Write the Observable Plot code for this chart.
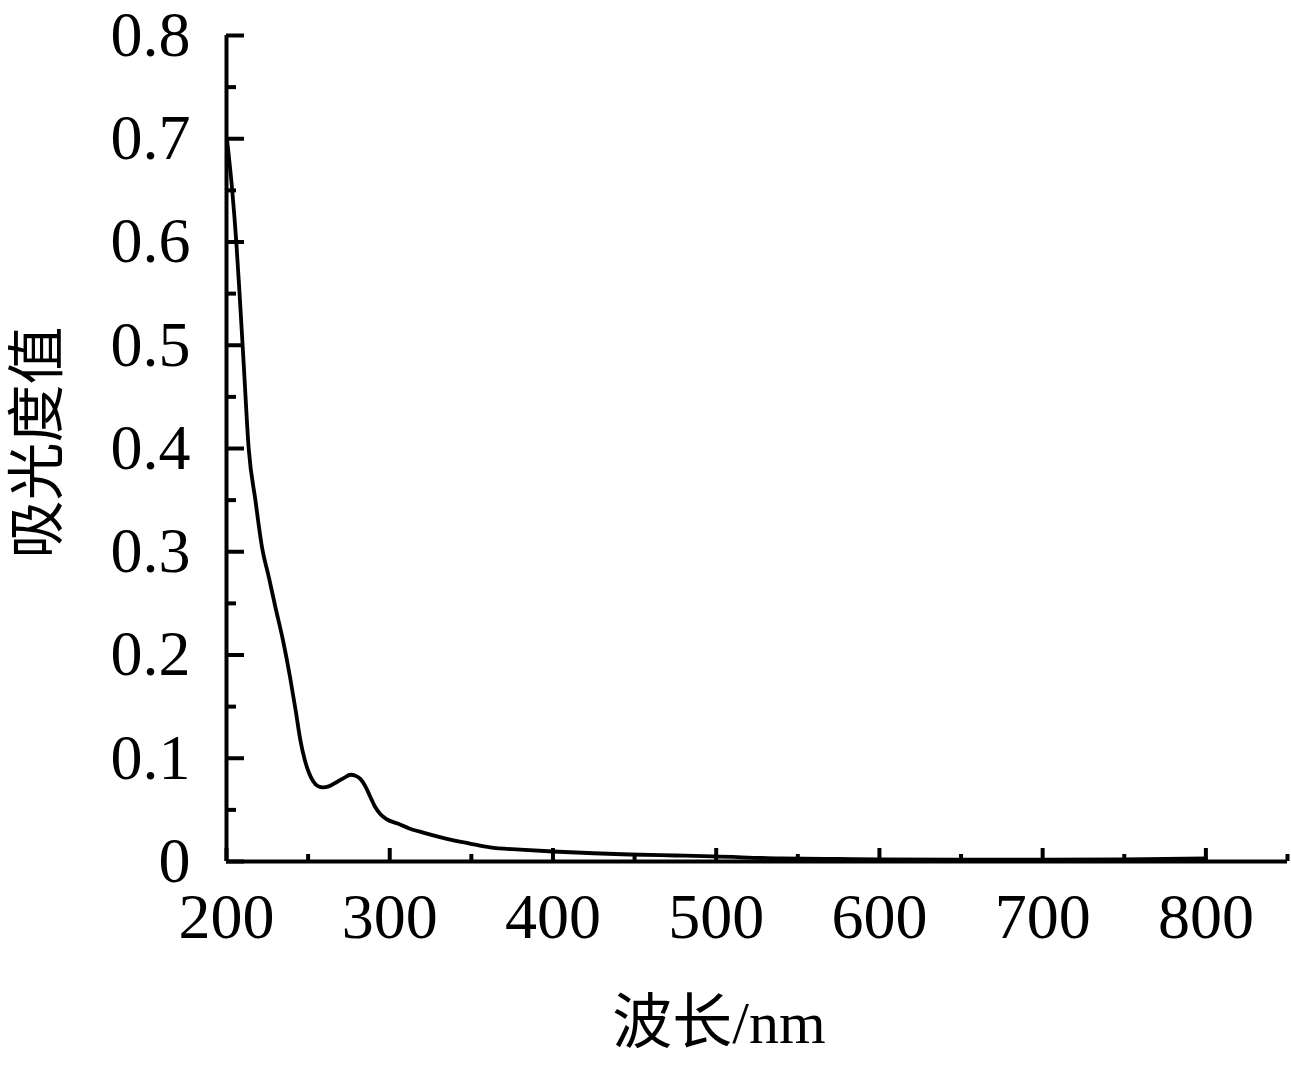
<!DOCTYPE html>
<html><head><meta charset="utf-8">
<script src="https://cdn.jsdelivr.net/npm/d3@7"></script>
<script src="https://cdn.jsdelivr.net/npm/@observablehq/plot@0.6"></script>
<style>body{margin:0;background:#fff}</style>
</head><body><div id="chart"></div>
<script>
const wavelength = [200.4,203.5,206,208,210.6,213.6,217.7,221.8,226,230,234.5,239,242.5,245.3,248,250.5,253,256,259.3,263,267.7,272,276,279,282,285,288,291,294.2,298,304.4,312,320.5,335,349,361.5,380,400,425,447,475,498,539,575,600,650,700,750,800];
const absorbance = [0.698,0.650,0.600,0.550,0.480,0.400,0.350,0.304,0.275,0.246,0.215,0.178,0.145,0.117,0.098,0.086,0.078,0.073,0.0717,0.073,0.077,0.081,0.084,0.083,0.080,0.073,0.063,0.053,0.046,0.041,0.037,0.032,0.028,0.022,0.0174,0.0136,0.0115,0.0097,0.008,0.0068,0.0058,0.005,0.003,0.0025,0.002,0.0018,0.0018,0.002,0.003];
const xMajor = [200,300,400,500,600,700,800];
const xMinor = [250,350,450,550,650,750,850];
const yMajor = [0,0.1,0.2,0.3,0.4,0.5,0.6,0.7,0.8];
const yMinor = [0.05,0.15,0.25,0.35,0.45,0.55,0.65,0.75];
const xLabel = "波长/nm";
const yLabel = "吸光度值";

const data = wavelength.map((w,i)=>({w, a: absorbance[i]}));
const serif = "'Liberation Serif','Times New Roman',serif";
const cjk = "'Liberation Serif','Noto Sans CJK SC',serif";

const chart = Plot.plot({
  width: 1291, height: 1068,
  marginLeft: 226, marginRight: 4, marginTop: 35, marginBottom: 207,
  style: {fontFamily: serif, color: "#000", background: "#fff"},
  x: {domain: [200, 850]},
  y: {domain: [0, 0.8]},
  marks: [
    Plot.axisX(xMajor, {tickSize: -13, tickPadding: 44, fontSize: 64, strokeWidth: 4, tickFormat: d => String(d), label: null}),
    Plot.axisX(xMinor, {tickSize: -7, strokeWidth: 4, text: null, label: null}),
    Plot.axisY(yMajor, {tickSize: -18, tickPadding: 54, fontSize: 64, strokeWidth: 4, tickFormat: d => d === 0 ? "0" : d.toFixed(1), label: null}),
    Plot.axisY(yMinor, {tickSize: -10, strokeWidth: 4, text: null, label: null}),
    Plot.ruleX([200], {strokeWidth: 4}),
    Plot.ruleY([0], {strokeWidth: 4}),
    Plot.line(data, {x: "w", y: "a", stroke: "#000", strokeWidth: 3.8, curve: "monotone-x"}),
    Plot.text([xLabel], {frameAnchor: "bottom", dx: -38, dy: 181, fontSize: 60, fontFamily: cjk, fill: "#000"}),
    Plot.text([yLabel], {frameAnchor: "left", dx: -188, dy: 110, rotate: -90, fontSize: 58, fontFamily: cjk, fill: "#000", letterSpacing: "26px"})
  ]
});
document.getElementById("chart").appendChild(chart);
</script></body></html>
